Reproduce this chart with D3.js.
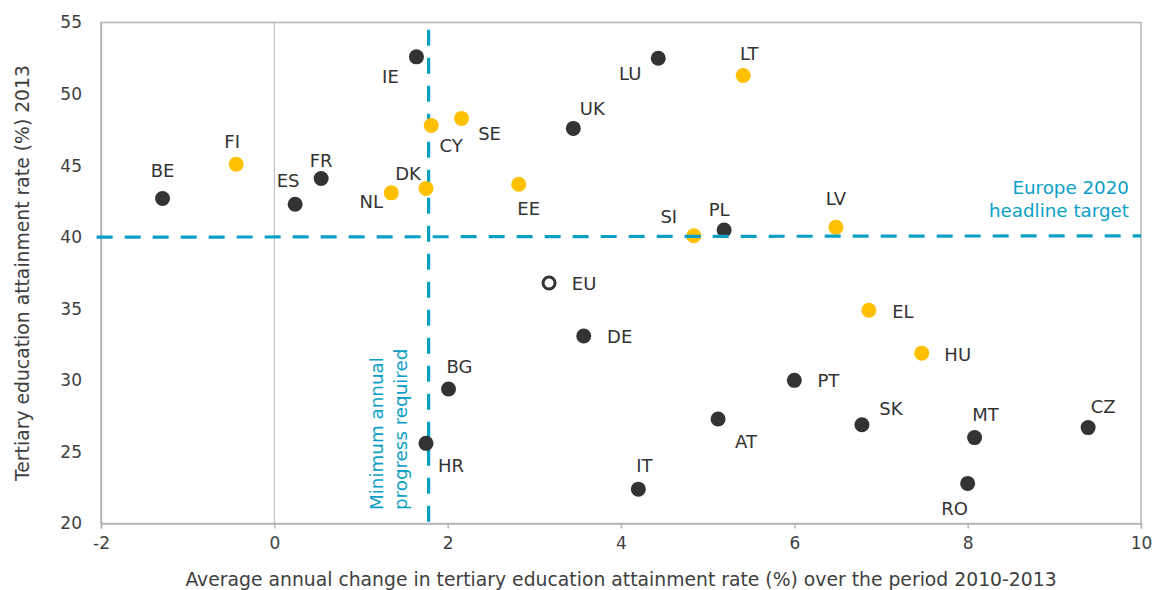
<!DOCTYPE html>
<html>
<head>
<meta charset="utf-8">
<script src="https://cdn.jsdelivr.net/npm/d3@7/dist/d3.min.js"></script>
<style>
  html, body { margin: 0; padding: 0; background: #fff; }
  svg { display: block; font-family: "DejaVu Sans", Verdana, sans-serif; }
</style>
</head>
<body>
<svg id="chart" width="1155" height="590"></svg>
<script>
// ---- data ----
const countries = ["BE","FI","ES","FR","NL","DK","IE","CY","SE","EE","UK","LU","EU","LT","SI","PL","LV","DE","BG","HR","IT","AT","EL","HU","PT","SK","MT","CZ","RO"];
const annualChange = [-1.29,-0.44,0.24,0.54,1.35,1.75,1.64,1.81,2.16,2.82,3.45,4.43,3.17,5.41,4.84,5.19,6.48,3.57,2.01,1.75,4.20,5.12,6.86,7.47,6.00,6.78,8.08,9.39,8.00];
const attainment2013 = [42.7,45.1,42.3,44.1,43.1,43.4,52.6,47.8,48.3,43.7,47.6,52.5,36.8,51.3,40.1,40.5,40.7,33.1,29.4,25.6,22.4,27.3,34.9,31.9,30.0,26.9,26.0,26.7,22.8];
const group = ["other","yellow","other","other","yellow","yellow","other","yellow","yellow","yellow","other","other","eu","yellow","yellow","other","yellow","other","other","other","other","other","yellow","yellow","other","other","other","other","other"];
const xTicks = [-2,0,2,4,6,8,10];
const yTicks = [20,25,30,35,40,45,50,55];
const targetLineX = [-2.05, 10];
const targetLineY = [40.0, 40.1];
const minProgressX = 1.78;
const minProgressY = [20, 54.5];
const xTitle = "Average annual change in tertiary education attainment rate (%) over the period 2010-2013";
const yTitle = "Tertiary education attainment rate (%) 2013";
const targetText = ["Europe 2020", "headline target"];
const progressText = ["Minimum annual", "progress required"];

// ---- layout (label offsets in px, not data) ----
const labelOffsets = {
  BE:[0,-28], FI:[-4,-23], ES:[-7,-24], FR:[0,-18], NL:[-20,9], DK:[-18,-15], IE:[-26,20],
  CY:[20,20], SE:[28,15], EE:[10,24], UK:[19,-20], LU:[-28,15], EU:[35,0], LT:[6,-22],
  SI:[-25,-19], PL:[-5,-21], LV:[0,-29], DE:[36,1], BG:[11,-22], HR:[25,22], IT:[6,-24],
  AT:[28,22], EL:[34,1], HU:[36,1], PT:[34,0], SK:[29,-16], MT:[11,-23], CZ:[15,-21], RO:[-13,25]
};

const svg = d3.select("#chart");
const x = d3.scaleLinear().domain([-2, 10]).range([101, 1141]);
const y = d3.scaleLinear().domain([20, 55]).range([523.5, 22.5]);
const blue = "#0a9fc7";
const frame = "#b4b4b4";
const textCol = "#404040";

// vertical gridline at 0
svg.append("line").attr("x1", x(0)).attr("x2", x(0)).attr("y1", y(55)).attr("y2", y(20))
  .attr("stroke", "#b4b4b4").attr("stroke-width", 1);

// frame
svg.append("rect").attr("x", x(-2)).attr("y", y(55)).attr("width", x(10) - x(-2)).attr("height", y(20) - y(55))
  .attr("fill", "none").attr("stroke", frame).attr("stroke-width", 1.5);

// x axis
const xAxis = d3.axisBottom(x).tickValues(xTicks).tickSize(5).tickPadding(8).tickFormat(d => String(d));
const gx = svg.append("g").attr("transform", `translate(0,${y(20)})`).call(xAxis);
gx.select(".domain").attr("stroke", frame).attr("stroke-width", 1.5);
gx.selectAll(".tick line").attr("stroke", frame).attr("stroke-width", 1.5);
gx.selectAll(".tick text").attr("fill", textCol).attr("font-size", 17).attr("font-family", "DejaVu Sans");

// y axis
const yAxis = d3.axisLeft(y).tickValues(yTicks).tickSize(0).tickPadding(19);
const gy = svg.append("g").attr("transform", `translate(${x(-2)},0)`).call(yAxis);
gy.select(".domain").attr("stroke", frame).attr("stroke-width", 1.5);
gy.selectAll(".tick text").attr("fill", textCol).attr("font-size", 17).attr("font-family", "DejaVu Sans");

// minimum progress line (behind points)
svg.append("line").attr("x1", x(minProgressX)).attr("x2", x(minProgressX))
  .attr("y1", y(minProgressY[1])).attr("y2", y(minProgressY[0]))
  .attr("stroke", blue).attr("stroke-width", 3.2).attr("stroke-dasharray", "16,12");

// points
const data = countries.map((c, i) => ({c, xv: annualChange[i], yv: attainment2013[i], g: group[i]}));
svg.append("g").selectAll("circle").data(data).join("circle")
  .attr("cx", d => x(d.xv)).attr("cy", d => y(d.yv))
  .attr("r", d => d.g === "eu" ? 6 : 7.5)
  .attr("fill", d => d.g === "yellow" ? "#ffc000" : d.g === "eu" ? "#fff" : "#333333")
  .attr("stroke", d => d.g === "eu" ? "#333333" : "none")
  .attr("stroke-width", d => d.g === "eu" ? 3 : 0);

// target line (over points)
svg.append("line").attr("x1", x(targetLineX[0])).attr("x2", x(targetLineX[1]))
  .attr("y1", y(targetLineY[0])).attr("y2", y(targetLineY[1]))
  .attr("stroke", blue).attr("stroke-width", 3.2).attr("stroke-dasharray", "16,12");

// labels
svg.append("g").selectAll("text").data(data).join("text")
  .attr("x", d => x(d.xv) + labelOffsets[d.c][0])
  .attr("y", d => y(d.yv) + labelOffsets[d.c][1])
  .attr("text-anchor", "middle").attr("dominant-baseline", "central")
  .attr("fill", "#333333").attr("font-size", 18)
  .text(d => d.c);

// annotations
const tt = svg.append("text").attr("text-anchor", "end").attr("fill", blue).attr("font-size", 18.3);
targetText.forEach((t, i) => tt.append("tspan").attr("x", 1129).attr("y", 193.5 + i * 23.5).text(t));

progressText.forEach((t, i) => {
  svg.append("text").attr("text-anchor", "start").attr("fill", blue).attr("font-size", 18.3)
    .attr("transform", `translate(${382.5 + i * 24},510) rotate(-90)`).text(t);
});

// axis titles
svg.append("text").attr("x", 621).attr("y", 585.5).attr("text-anchor", "middle")
  .attr("fill", textCol).attr("font-size", 18.8).text(xTitle);
svg.append("text").attr("transform", "translate(28.5,273) rotate(-90)").attr("text-anchor", "middle")
  .attr("fill", textCol).attr("font-size", 18.8).text(yTitle);
</script>
</body>
</html>
